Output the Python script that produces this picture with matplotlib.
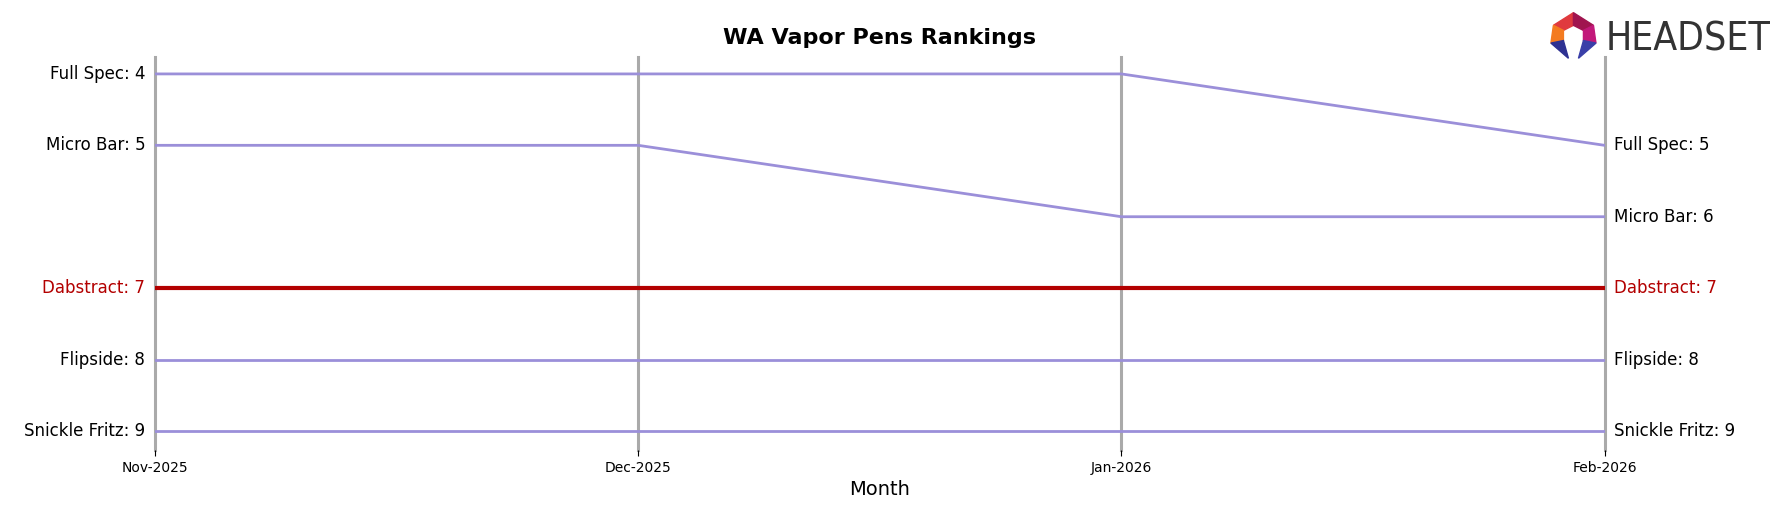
import matplotlib.pyplot as plt
from matplotlib.patches import Polygon

months = ["Nov-2025", "Dec-2025", "Jan-2026", "Feb-2026"]
brands = ["Full Spec", "Micro Bar", "Dabstract", "Flipside", "Snickle Fritz"]
ranks = {
    "Full Spec": [4, 4, 4, 5],
    "Micro Bar": [5, 5, 6, 6],
    "Dabstract": [7, 7, 7, 7],
    "Flipside": [8, 8, 8, 8],
    "Snickle Fritz": [9, 9, 9, 9],
}
highlight = "Dabstract"

fig = plt.figure(figsize=(17.88, 5.07), dpi=100)
ax = fig.add_axes([0.0867, 0.112, 0.8107, 0.776])
x = list(range(len(months)))

for xi in x:
    ax.axvline(xi, color="#aaaaaa", lw=2.2, zorder=1, clip_on=False)

for b in brands:
    if b == highlight:
        ax.plot(x, ranks[b], color="#b30000", lw=3, zorder=3)
    else:
        ax.plot(x, ranks[b], color="#9b8fd9", lw=2, zorder=2)
    c = "#b30000" if b == highlight else "black"
    ax.text(-0.02, ranks[b][0], f"{b}: {ranks[b][0]}", ha="right", va="center",
            fontsize=12, color=c)
    ax.text(x[-1] + 0.02, ranks[b][-1], f"{b}: {ranks[b][-1]}", ha="left",
            va="center", fontsize=12, color=c)

ax.set_xlim(0, 3)
ax.set_ylim(9.27, 3.76)
ax.set_yticks([])
ax.set_xticks(x)
ax.set_xticklabels(months, fontsize=10)
ax.tick_params(axis="x", length=4)
for s in ax.spines.values():
    s.set_visible(False)
ax.set_xlabel("Month", fontsize=14)
fig.text(0.492, 0.925, "WA Vapor Pens Rankings", ha="center", va="center",
         fontsize=16, fontweight="bold")

# logo
fig.text(0.898, 0.922, "HEADSET", ha="left", va="center", fontsize=28,
         color="#333333", stretch="condensed")
la = fig.add_axes([0.866, 0.88, 0.028, 0.1])
la.set_xlim(0, 1)
la.set_ylim(0, 1)
la.axis("off")
la.add_patch(Polygon([[0.1, 0.7], [0.5, 0.95], [0.5, 0.7], [0.3, 0.6]], color="#e03a3e"))
la.add_patch(Polygon([[0.5, 0.95], [0.9, 0.7], [0.7, 0.6], [0.5, 0.7]], color="#a0144f"))
la.add_patch(Polygon([[0.1, 0.7], [0.3, 0.6], [0.3, 0.4], [0.05, 0.35]], color="#f47b20"))
la.add_patch(Polygon([[0.9, 0.7], [0.95, 0.35], [0.7, 0.4], [0.7, 0.6]], color="#c2187a"))
la.add_patch(Polygon([[0.05, 0.35], [0.3, 0.4], [0.4, 0.05]], color="#2e3192"))
la.add_patch(Polygon([[0.95, 0.35], [0.7, 0.4], [0.6, 0.05]], color="#3a3fa8"))

fig.savefig("out.png", dpi=100)
